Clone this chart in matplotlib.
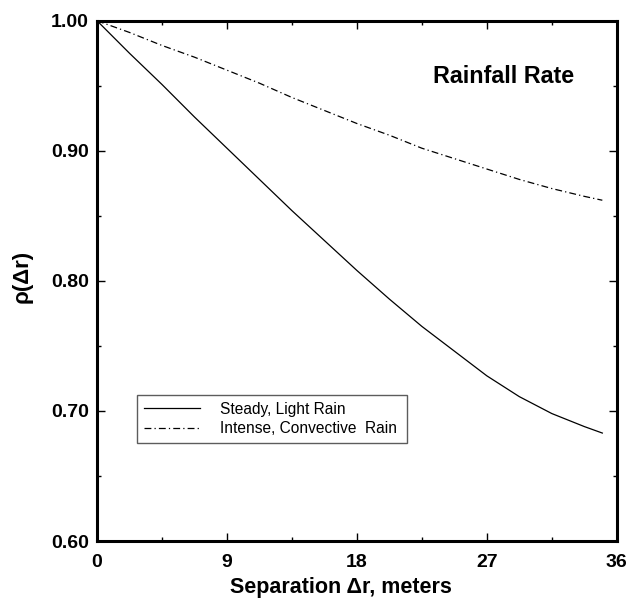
import matplotlib
matplotlib.use('Agg')
import matplotlib.pyplot as plt
from matplotlib.ticker import MultipleLocator

plt.rcParams['font.family'] = ['Liberation Sans', 'DejaVu Sans']

# Correlation vs separation
sep = [0, 2.25, 4.5, 6.75, 9, 11.25, 13.5, 15.75, 18,
       20.25, 22.5, 24.75, 27, 29.25, 31.5, 33.75, 35]
rho_steady = [1.000, 0.975, 0.951, 0.926, 0.902, 0.878, 0.854, 0.831, 0.808,
              0.786, 0.765, 0.746, 0.727, 0.711, 0.698, 0.688, 0.683]
rho_intense = [1.000, 0.991, 0.981, 0.972, 0.962, 0.952, 0.941, 0.931, 0.921,
               0.912, 0.902, 0.894, 0.886, 0.878, 0.871, 0.865, 0.862]

x_ticks = [0, 9, 18, 27, 36]
y_ticks = [0.60, 0.70, 0.80, 0.90, 1.00]

fig = plt.figure(figsize=(6.3, 5.98), dpi=100)
ax = fig.add_axes([0.154, 0.0953, 0.825, 0.87])

ax.plot(sep, rho_steady, color='black', lw=0.9, label='Steady, Light Rain')
ax.plot(sep, rho_intense, color='black', lw=0.9, linestyle=(0, (5.5, 2.5, 1, 2.5)),
        label='Intense, Convective  Rain')

ax.set_xlim(0, 36)
ax.set_ylim(0.60, 1.00)
ax.set_xticks(x_ticks)
ax.set_xticklabels([str(t) for t in x_ticks])
ax.set_yticks(y_ticks)
ax.set_yticklabels(['%.2f' % t for t in y_ticks])
ax.xaxis.set_minor_locator(MultipleLocator(4.5))
ax.yaxis.set_minor_locator(MultipleLocator(0.05))
ax.tick_params(which='both', direction='in', top=True, right=True, width=1)
ax.tick_params(which='major', length=6, labelsize=14, pad=6)
ax.tick_params(axis='x', which='major', pad=9)
ax.tick_params(which='minor', length=3)
for lab in ax.get_xticklabels() + ax.get_yticklabels():
    lab.set_fontweight('bold')
for s in ax.spines.values():
    s.set_linewidth(2.2)

ax.set_xlabel('Separation \u0394r, meters', fontsize=15.5, fontweight='bold')
ax.xaxis.label.set_va('baseline')
ax.xaxis.set_label_coords(0.469, -0.1)
ax.set_ylabel('\u03c1(\u0394r)', fontsize=16, fontweight='bold')
ax.yaxis.set_label_coords(-0.123, 0.508)

ax.text(0.783, 0.892, 'Rainfall Rate', transform=ax.transAxes, fontsize=16.8,
        fontweight='bold', ha='center', va='center')

leg = ax.legend(loc='upper left', bbox_to_anchor=(0.077, 0.189, 0.519, 0.092),
                mode='expand', borderaxespad=0, fancybox=False, frameon=True,
                fontsize=11.2, handlelength=3.6, handletextpad=1.3,
                labelspacing=0.3, borderpad=0.45)
leg.get_frame().set_edgecolor('#333333')
leg.get_frame().set_linewidth(1)

fig.savefig('out.png', dpi=100)
